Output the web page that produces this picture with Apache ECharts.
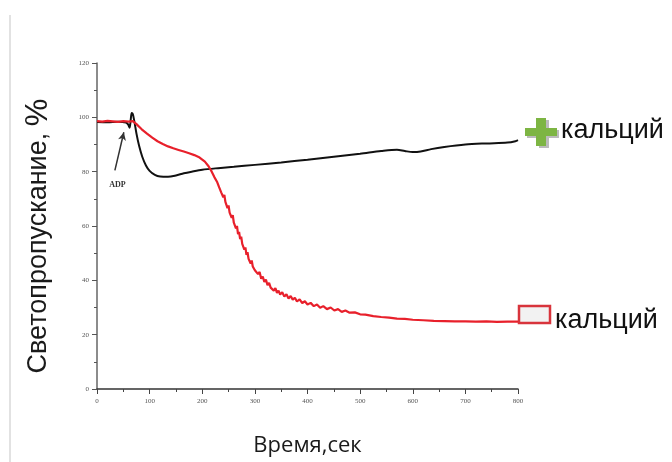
<!DOCTYPE html>
<html>
<head>
<meta charset="utf-8">
<script src="https://cdn.jsdelivr.net/npm/echarts@6/dist/echarts.min.js"></script>
<style>html,body{margin:0;padding:0;background:#fff}#c{width:672px;height:462px}</style>
</head>
<body>
<div id="c"></div>
<script>
// Black curve (+ кальций)
const blackTime = [0,20,40,55,59,62,64,66,68,71,75,80,86,93,100,110,120,135,150,165,180,200,230,260,300,350,400,450,500,540,570,585,600,615,635,660,700,740,780,795,800];
const blackVal  = [98.3,98.2,98.4,98.1,97.4,96.2,99,101.6,101.2,98.5,94,89.5,85.5,82.3,80.3,78.8,78.2,78.1,78.6,79.4,80,80.7,81.3,81.8,82.5,83.4,84.4,85.5,86.6,87.6,88.1,87.6,87.2,87.4,88.3,89.1,90,90.4,90.7,91.2,91.6];
// Red curve (− кальций)
const redTime = [0,10,20,30,40,50,60,68,75,85,95,105,115,125,135,145,155,165,175,185,195,205,212,218,223,228,232,234,236,238,240,242,244,246,248,250,252,254,256,258,260,262,264,266,268,270,272,274,276,278,280,282,284,286,288,290,292,294,296,298,300,303,306,309,312,315,318,321,324,327,330,333,336,339,342,345,348,352,356,360,364,368,372,376,380,385,390,395,400,406,412,418,424,430,437,444,451,458,465,472,480,490,500,510,525,540,555,570,585,600,620,640,660,680,700,720,740,760,780,800];
const redVal  = [98.6,98.4,98.7,98.5,98.3,98.6,98.4,98.6,97.5,95.6,94,92.5,91.2,90.2,89.3,88.6,88,87.4,86.8,86.1,85.2,83.7,82,80,78,76.3,74.3,74.8,72.4,73.1,70.6,71.4,68.9,69.2,66.6,67.6,64.9,65.5,63,64,61.2,61.4,59.1,60,57,57.8,55.2,56.1,53.4,53.5,51.3,52.1,49.4,50.4,47.9,48.6,46.2,47.3,45.1,45.8,43.7,43.5,42.3,43.1,40.6,41.4,39.4,40.3,38.2,39.1,37.3,38,36.2,37.1,35.4,36.2,34.8,35.6,34,34.9,33.3,34.2,32.9,33.6,32.2,33,31.6,32.3,31.1,31.7,30.5,31.1,29.9,30.5,29.4,30,28.9,29.4,28.4,28.9,28.1,28.2,27.5,27.4,26.8,26.5,26.3,25.9,25.8,25.5,25.3,25.1,25,24.9,24.9,24.8,24.9,24.7,24.8,24.8];
// Axis ticks
const xTicks = {min:0, max:800, step:100};
const yTicks = {min:0, max:120, step:20};
const adpArrow = [[34,80.5],[51,94.5]];
const adpLabelPos = [39,75];

const chart = echarts.init(document.getElementById('c'), null, {renderer:'canvas'});
const tickFont = {fontFamily:'Liberation Serif', fontSize:7, color:'#555'};
chart.setOption({
  backgroundColor:'#fff',
  animation:false,
  grid:{left:97, right:154, top:63, bottom:73, containLabel:false, outerBoundsMode:'none'},
  xAxis:{
    type:'value', min:xTicks.min, max:xTicks.max, interval:xTicks.step,
    name:'Время,сек', nameLocation:'middle', nameGap:46,
    nameTextStyle:{fontFamily:'Open Sans', fontSize:22, color:'#1a1a1a'},
    axisLine:{show:true, onZero:false, lineStyle:{color:'#333', width:1.5}},
    axisTick:{show:true, inside:false, length:5, lineStyle:{color:'#444'}},
    minorTick:{show:true, splitNumber:2, length:3, lineStyle:{color:'#444'}},
    splitLine:{show:false},
    axisLabel:Object.assign({margin:9}, tickFont)
  },
  yAxis:{
    type:'value', min:yTicks.min, max:yTicks.max, interval:yTicks.step,
    name:'{a|Светопропускание,}  {b|%}', nameLocation:'middle', nameGap:43, nameRotate:90,
    nameTextStyle:{padding:[0,20,0,0], rich:{a:{fontFamily:'Liberation Sans', fontSize:27, color:'#1a1a1a'}, b:{fontFamily:'Liberation Sans', fontSize:31, color:'#1a1a1a'}}},
    axisLine:{show:true, onZero:false, lineStyle:{color:'#666', width:1.5}},
    axisTick:{show:true, inside:false, length:5, lineStyle:{color:'#555'}},
    minorTick:{show:true, splitNumber:2, length:3, lineStyle:{color:'#555'}},
    splitLine:{show:false},
    axisLabel:Object.assign({margin:8}, tickFont)
  },
  series:[
    {
      type:'line', name:'black', data:blackTime.map((t,i)=>[t,blackVal[i]]),
      showSymbol:false, smooth:0.3, z:2,
      lineStyle:{color:'#111', width:2},
      markLine:{
        silent:true, symbol:['none','arrow'], symbolSize:[6,8],
        lineStyle:{color:'#333', width:1.5, type:'solid'},
        label:{show:false},
        data:[[{coord:adpArrow[0]},{coord:adpArrow[1]}]]
      },
      markPoint:{
        symbol:'circle', symbolSize:0,
        label:{show:true, formatter:'ADP', fontFamily:'Liberation Serif', fontWeight:'bold', fontSize:8, color:'#333'},
        data:[{coord:adpLabelPos}]
      }
    },
    {
      type:'line', name:'red', data:redTime.map((t,i)=>[t,redVal[i]]),
      showSymbol:false, z:3,
      lineStyle:{color:'#e8202b', width:2.2}
    }
  ],
  graphic:[
    {type:'line', shape:{x1:10,y1:15,x2:10,y2:462}, style:{stroke:'#e2e2e2', lineWidth:2}},
    // green plus
    {type:'group', children:[
      {type:'rect', shape:{x:527,y:130,width:32,height:8}, style:{fill:'#bbb'}},
      {type:'rect', shape:{x:539,y:120,width:10,height:28}, style:{fill:'#bbb'}},
      {type:'rect', shape:{x:525,y:128,width:32,height:8}, style:{fill:'#7db543'}},
      {type:'rect', shape:{x:536,y:118,width:10,height:28}, style:{fill:'#7db543'}}
    ]},
    {type:'text', left:561, top:117, style:{text:'кальций', font:'27px "Liberation Sans"', fill:'#111'}},
    // red box
    {type:'rect', shape:{x:519,y:306,width:31,height:17}, style:{fill:'#f2f2f2', stroke:'#d8343c', lineWidth:2.5}},
    {type:'text', left:555, top:307, style:{text:'кальций', font:'27px "Liberation Sans"', fill:'#111'}}
  ]
});
</script>
</body>
</html>
